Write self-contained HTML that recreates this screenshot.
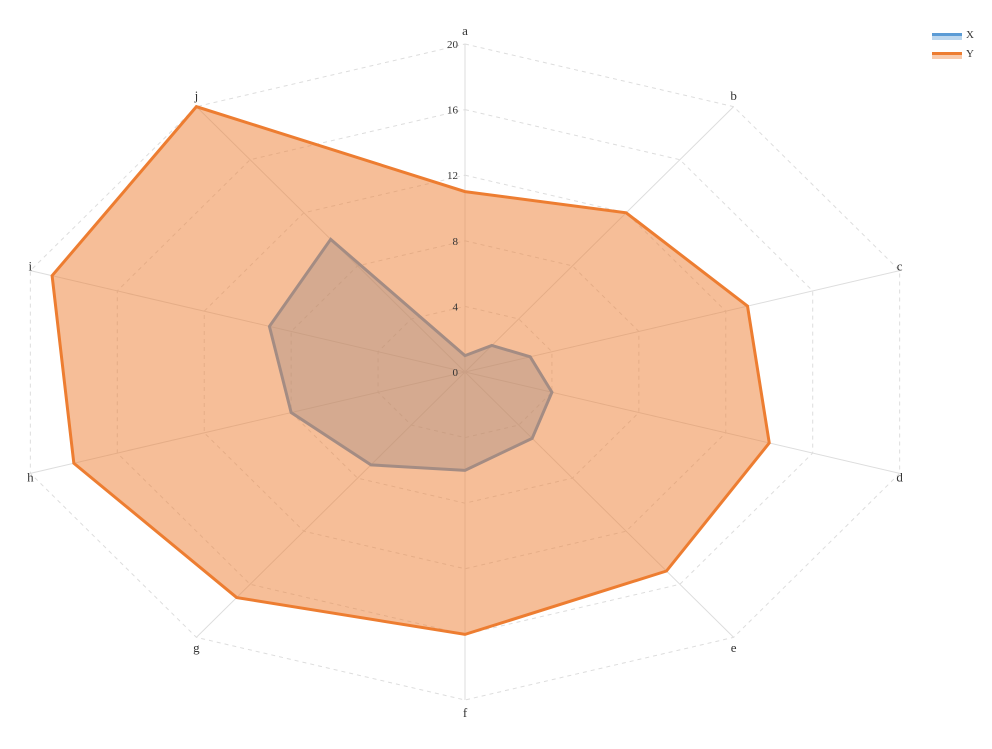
<!DOCTYPE html>
<html><head><meta charset="utf-8"><style>
body{margin:0;background:#fff;}
svg text{font-family:"Liberation Serif",serif;fill:#333;}
</style></head><body>
<svg id="chart" width="992" height="744"></svg>
<script>
const categories=['a','b','c','d','e','f','g','h','i','j'];
const seriesX=[1,2,3,4,5,6,7,8,9,10];
const seriesY=[11,12,13,14,15,16,17,18,19,20];
const tickValues=[0,4,8,12,16,20];
const maxVal=20;
const svg=document.getElementById('chart');
const NS='http://www.w3.org/2000/svg';
const cx=465,cy=372,Rx=457,Ry=328;
function pt(i,v){const a=i*2*Math.PI/categories.length;return [cx+Math.sin(a)*Rx*v/maxVal, cy-Math.cos(a)*Ry*v/maxVal];}
function mk(t,attrs){const e=document.createElementNS(NS,t);for(const k in attrs)e.setAttribute(k,attrs[k]);svg.appendChild(e);return e;}
tickValues.forEach(t=>{if(t===0)return;
 const p=categories.map((c,i)=>pt(i,t).join(',')).join(' ');
 const e=mk('polygon',{points:p,fill:'none',stroke:'#ddd','stroke-dasharray':'4,4'});
 
 
});
categories.forEach((c,i)=>{
 const [x,y]=pt(i,maxVal);
 const s=mk('line',{x1:cx,y1:cy,x2:x,y2:y,stroke:'#ddd'});
 
 
 const a=i*2*Math.PI/categories.length;
 const ly=cy-Math.cos(a)*Ry*1.04;
 const t=mk('text',{x:x,y:ly+4,'text-anchor':'middle','font-size':13});
 t.textContent=c;
 
 
});
function series(vals,stroke,fill,name){
 const p=vals.map((v,i)=>pt(i,v).join(',')).join(' ');
 const e=mk('polygon',{points:p,fill:fill,stroke:stroke,'stroke-width':3,'stroke-linejoin':'miter'});
 
 
}
series(seriesX,'#5b9bd5','rgba(91,155,213,0.4)','series-x-area');
const yFill=mk('polygon',{points:seriesY.map((v,i)=>pt(i,v).join(',')).join(' '),fill:'rgba(237,125,49,0.5)',stroke:'none'});


series(seriesY,'#ed7d31','none','series-y-area');
tickValues.forEach(t=>{
 const e=mk('text',{x:458,y:cy-Ry*t/maxVal+4,'text-anchor':'end','font-size':11});
 e.textContent=t;
 
 
});
[['X','#5b9bd5','#bdd7ee',35],['Y','#ed7d31','#f8cbad',54]].forEach(([n,c,f,y])=>{
 const g=mk('g',{});
 
 
 const r1=document.createElementNS(NS,'rect');r1.setAttribute('x',932);r1.setAttribute('y',y-2);r1.setAttribute('width',30);r1.setAttribute('height',3);r1.setAttribute('fill',c);g.appendChild(r1);
 const r2=document.createElementNS(NS,'rect');r2.setAttribute('x',932);r2.setAttribute('y',y+1);r2.setAttribute('width',30);r2.setAttribute('height',4);r2.setAttribute('fill',f);g.appendChild(r2);
 const t=document.createElementNS(NS,'text');t.setAttribute('x',966);t.setAttribute('y',y+3);t.setAttribute('font-size',11);t.textContent=n;g.appendChild(t);
});
</script>
</body></html>
